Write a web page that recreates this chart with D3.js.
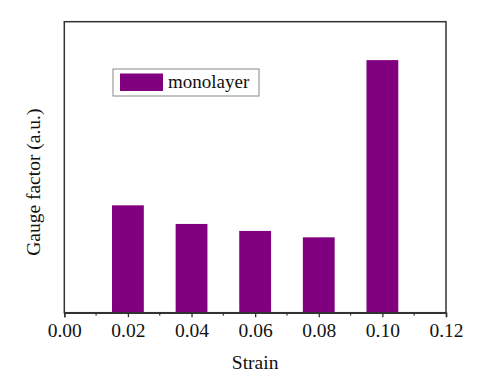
<!DOCTYPE html>
<html>
<head>
<meta charset="utf-8">
<script src="https://cdn.jsdelivr.net/npm/d3@7"></script>
<style>
  body { margin: 0; background: #fff; }
  svg text { font-family: "Liberation Serif", "Times New Roman", serif; }
</style>
</head>
<body>
<div id="container"></div>
<script>
const strains = [0.02, 0.04, 0.06, 0.08, 0.10];
const gaugeFactor = [3.69, 3.05, 2.81, 2.59, 8.68];
const xTicks = [0.00, 0.02, 0.04, 0.06, 0.08, 0.10, 0.12];
const minorTicks = [0.01, 0.03, 0.05, 0.07, 0.09, 0.11];
const seriesName = "monolayer";

const width = 480;
const height = 382;
const marginTop = 21.7;
const marginRight = 34;
const marginBottom = 69.3;
const marginLeft = 64.3;
const barColor = "#800080";
const serif = '"Liberation Serif", "Times New Roman", serif';

const x = d3.scaleLinear()
  .domain([0, 0.12])
  .range([marginLeft, width - marginRight]);

const y = d3.scaleLinear()
  .domain([0, 10])
  .range([height - marginBottom, marginTop]);

const barWidth = x(0.01) - x(0);

const svg = d3.create("svg").attr("width", width).attr("height", height);

// bars
svg.append("g")
  .selectAll("rect")
  .data(strains)
  .enter()
  .append("rect")
  .attr("x", (d) => x(d) - barWidth / 2)
  .attr("y", (d, i) => y(gaugeFactor[i]))
  .attr("width", barWidth)
  .attr("height", (d, i) => y(0) - y(gaugeFactor[i]))
  .attr("fill", barColor);

// frame
svg.append("rect")
  .attr("x", x(0))
  .attr("y", y(10))
  .attr("width", x(0.12) - x(0))
  .attr("height", y(0) - y(10))
  .attr("fill", "none")
  .attr("stroke", "#333")
  .attr("stroke-width", 1.5);

// x axis
const xAxis = svg.append("g")
  .attr("transform", `translate(0,${y(0)})`)
  .call(d3.axisBottom(x).tickValues(xTicks).tickSize(4.5).tickPadding(6)
    .tickFormat(d3.format(".2f")));
xAxis.attr("font-family", null);
xAxis.select(".domain").attr("stroke", "#333").attr("stroke-width", 1.5);
xAxis.selectAll(".tick line").attr("stroke", "#333").attr("stroke-width", 1.3);
xAxis.selectAll(".tick text")
  .style("font-family", serif)
  .style("font-size", "19.5px")
  .attr("fill", "#111");

svg.append("g")
  .attr("transform", `translate(0,${y(0)})`)
  .selectAll("line")
  .data(minorTicks)
  .enter()
  .append("line")
  .attr("x1", (d) => x(d))
  .attr("x2", (d) => x(d))
  .attr("y1", 0)
  .attr("y2", 2.8)
  .attr("stroke", "#333")
  .attr("stroke-width", 1.3);

// axis titles
svg.append("text")
  .attr("x", (x(0) + x(0.12)) / 2)
  .attr("y", 369)
  .attr("text-anchor", "middle")
  .style("font-family", serif)
  .style("font-size", "19.5px")
  .attr("fill", "#111")
  .text("Strain");

svg.append("text")
  .attr("transform", `translate(40,${(y(0) + y(10)) / 2 + 15}) rotate(-90)`)
  .attr("text-anchor", "middle")
  .style("font-family", serif)
  .style("font-size", "19.5px")
  .attr("fill", "#111")
  .text("Gauge factor (a.u.)");

// legend
const legend = svg.append("g").attr("transform", "translate(113,69)");
legend.append("rect")
  .attr("width", 146)
  .attr("height", 27)
  .attr("fill", "#fff")
  .attr("stroke", "#888")
  .attr("stroke-width", 1);
legend.append("rect")
  .attr("x", 7)
  .attr("y", 4.5)
  .attr("width", 43)
  .attr("height", 17.5)
  .attr("fill", barColor);
legend.append("text")
  .attr("x", 55)
  .attr("y", 19)
  .style("font-family", serif)
  .style("font-size", "19px")
  .attr("fill", "#111")
  .text(seriesName);

d3.select("#container").append(() => svg.node());
</script>
</body>
</html>
